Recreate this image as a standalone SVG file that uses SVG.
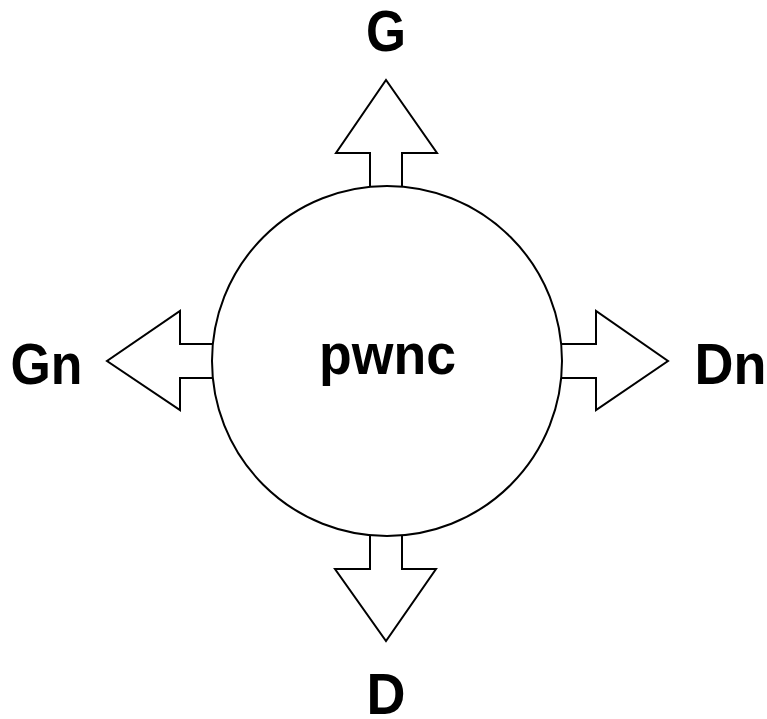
<svg xmlns="http://www.w3.org/2000/svg" width="767" height="719" viewBox="0 0 767 719">
<style>
.shape{fill:#fff;stroke:#000;stroke-width:2;stroke-linejoin:miter}
.lbl{font-family:"Liberation Sans",Arial,sans-serif;font-weight:bold;font-size:58px;fill:#000;text-anchor:middle}
</style>
<rect width="767" height="719" fill="#fff"/>
<g id="connectors">
<polygon id="arrow-up" class="shape" points="370,190 370,153 336,153 386,80 437,153 402,153 402,190"/>
<polygon id="arrow-down" class="shape" points="370,532 370,569 335,569 386,641 436,569 402,569 402,532"/>
<polygon id="arrow-left" class="shape" points="216,344 180,344 180,311 107,361 180,410 180,378 216,378"/>
<polygon id="arrow-right" class="shape" points="558,344 596,344 596,311 668,361 596,410 596,378 558,378"/>
</g>
<g id="node-pwnc">
<circle class="shape" cx="387" cy="361" r="175"/>
<text class="lbl" x="387.5" y="374" textLength="137" lengthAdjust="spacingAndGlyphs">pwnc</text>
</g>
<g id="node-G"><text class="lbl" x="386" y="51" textLength="40" lengthAdjust="spacingAndGlyphs">G</text></g>
<g id="node-D"><text class="lbl" x="386" y="714" textLength="39" lengthAdjust="spacingAndGlyphs">D</text></g>
<g id="node-Gn"><text class="lbl" x="46.5" y="384" textLength="72" lengthAdjust="spacingAndGlyphs">Gn</text></g>
<g id="node-Dn"><text class="lbl" x="730.5" y="384" textLength="72" lengthAdjust="spacingAndGlyphs">Dn</text></g>
</svg>
